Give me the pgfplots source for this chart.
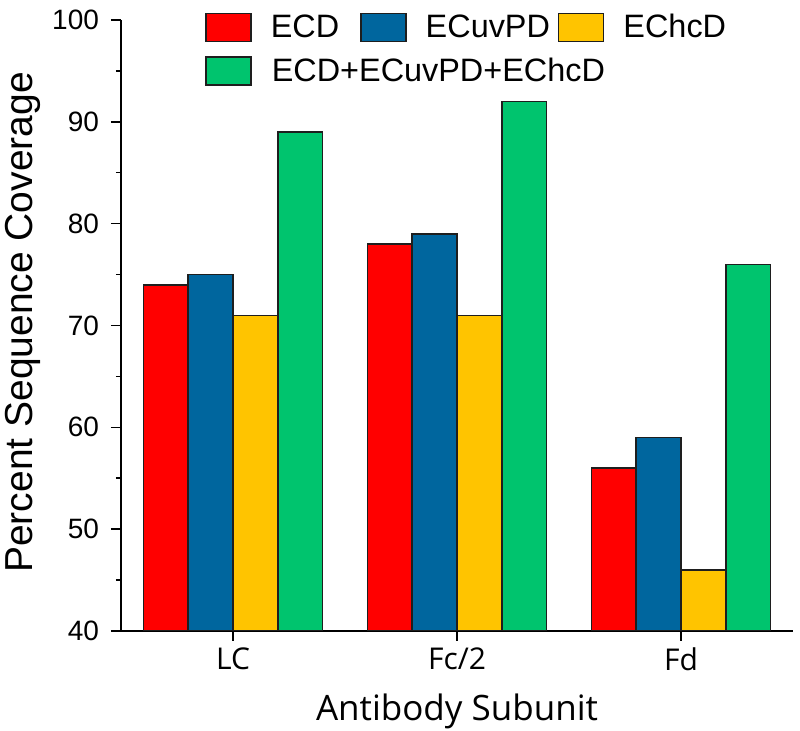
\documentclass[border=0pt]{standalone}
\usepackage{pgfplots}
\pgfplotsset{compat=1.18}
\usepackage{fontspec}
\setmainfont{Liberation Sans}
\newfontfamily\osans{Open Sans}
\definecolor{cred}{HTML}{FF0000}
\definecolor{cblue}{HTML}{00669E}
\definecolor{cyellow}{HTML}{FFC400}
\definecolor{cgreen}{HTML}{00C46E}
\definecolor{cedge}{HTML}{1E1E1E}
\begin{document}
\begin{tikzpicture}
\path[use as bounding box] (-60.5pt,-50pt) rectangle (339.5pt,315.5pt);
\begin{axis}[
 scale only axis, width=336pt, height=305.5pt,
 ybar=0pt, bar width=0.2,
 xmin=0.5, xmax=3.5, ymin=40, ymax=100,
 xtick={1,2,3}, xticklabels={LC,Fc/2,Fd},
 ytick={40,50,...,100}, minor y tick num=1,
 axis x line*=bottom, axis y line*=left,
 axis line style={line width=0.75pt},
 tick align=outside,
 major tick length=5pt, minor tick length=2.5pt,
 tick style={black, line width=0.75pt},
 x tick label style={font=\osans\fontsize{15}{18}\selectfont},
 y tick label style={font=\fontsize{14}{17}\selectfont, xshift=-2.5pt},
 /pgf/number format/assume math mode=true,
 xlabel={Antibody Subunit}, ylabel={Percent Sequence Coverage},
 xlabel style={font=\osans\fontsize{17.5}{21}\selectfont, at={(axis description cs:0.5,-0.131)}, anchor=center},
 ylabel style={font=\fontsize{19.5}{23}\selectfont, at={(axis description cs:-0.146,0.505)}, anchor=center},
 legend columns=3, legend cell align=left,
 legend style={draw=none, fill=none, at={(axis description cs:0.116,1.019)}, anchor=north west,
   font=\fontsize{16.2}{19}\selectfont, nodes={inner sep=0pt},
   /tikz/every odd column/.append style={column sep=9.5pt},
   /tikz/column 2/.append style={column sep=10.5pt},
   /tikz/column 4/.append style={column sep=4pt}, row sep=7pt},
 legend image code/.code={\draw[#1, draw=cedge, line width=0.75pt] (0pt,-7pt) rectangle (22.5pt,7pt);},
]
\addplot[fill=cred, draw=cedge, line width=0.75pt] coordinates {(1,74) (2,78) (3,56)};
\addplot[fill=cblue, draw=cedge, line width=0.75pt] coordinates {(1,75) (2,79) (3,59)};
\addplot[fill=cyellow, draw=cedge, line width=0.75pt] coordinates {(1,71) (2,71) (3,46)};
\addplot[fill=cgreen, draw=cedge, line width=0.75pt] coordinates {(1,89) (2,92) (3,76)};
\legend{ECD,ECuvPD,EChcD,\makebox[0pt][l]{ECD+ECuvPD+EChcD}}
\end{axis}
\end{tikzpicture}
\end{document}
